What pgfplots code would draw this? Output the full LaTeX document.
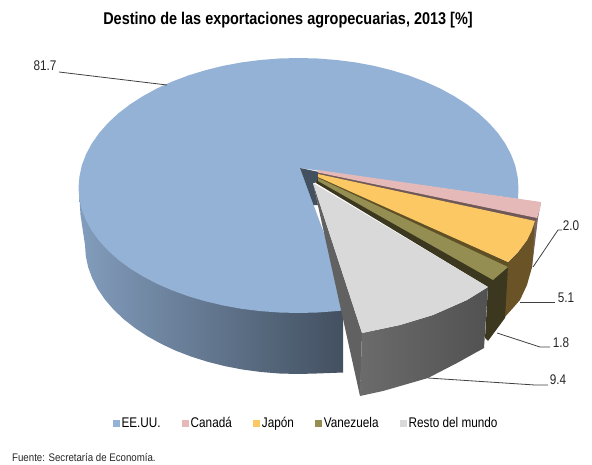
\documentclass[border=0pt]{standalone}
\usepackage{fontspec}
\setmainfont{Liberation Sans}
\usepackage{graphicx}
\usepackage{pgfplots}
\pgfplotsset{compat=1.18}
\definecolor{cB}{HTML}{94B2D6}
\definecolor{cP}{HTML}{E5B9B8}
\definecolor{cY}{HTML}{FCC864}
\definecolor{cO}{HTML}{958E52}
\definecolor{cG}{HTML}{D9D9D9}
\definecolor{cYs}{HTML}{6A5427}
\definecolor{cYe}{HTML}{605026}
\definecolor{cOs}{HTML}{3C3820}
\newcommand\T[3]{\scalebox{#2}[1]{\fontsize{#1bp}{#1bp}\selectfont #3}}
\pgfplotsset{
  sl/.style={forget plot,draw=none,fill=#1},
  ld/.style={forget plot,draw=black!75,line width=0.8bp},
}
\tikzset{lab/.style={inner sep=0pt,text=black!85}}
\begin{document}
\begin{tikzpicture}
\begin{axis}[
  scale only axis,width=592bp,height=465bp,
  xmin=0,xmax=592,ymin=0,ymax=465,y dir=reverse,
  hide axis,clip=false,
  legend columns=5,
  legend style={draw=none,fill=none,at={(axis cs:306,423.5)},anchor=center,inner sep=0pt,
    /tikz/every even column/.append style={column sep=19bp}},
  legend cell align=left,
  legend image code/.code={\path[#1,draw=none] (0bp,-3.5bp) rectangle (7bp,3.5bp);},
]
\path (axis cs:0,0) rectangle (axis cs:592,465);
% blue side
\addplot[forget plot,draw=none,left color=cB!88!black,right color=cB!45!black] coordinates {
(79,190)(80.5,215)(85,245)(85.8,256.2)(88.2,267.4)(92.3,278.4)(97.8,289.1)(105,299.6)(113.5,309.5)(123.5,319)(134.8,327.9)(147.4,336.2)(161.1,343.8)(175.8,350.7)(191.5,356.7)(208,361.9)(225.2,366.2)(242.9,369.6)(261,372)(279.4,373.5)(298,374)(316.6,373.5)(343,372.5)(343,300)(200,250)};
% blue top
\addplot[sl=cB] coordinates {
(518,199)(518.5,188)(517.6,176.7)(515.2,165.4)(511,154.3)(505.2,143.5)(497.9,133)(489,123)(478.7,113.4)(467,104.4)(454.1,96.1)(440,88.4)(424.7,81.5)(408.5,75.4)(391.5,70.2)(373.7,65.8)(355.5,62.4)(336.7,60)(317.7,58.5)(298.5,58)(279.3,58.5)(260.3,60)(241.5,62.4)(223.3,65.8)(205.5,70.2)(188.5,75.4)(172.3,81.5)(157,88.4)(143,96.1)(130,104.4)(118.3,113.4)(108,123)(99.2,133)(91.8,143.5)(86,154.3)(81.8,165.4)(79.4,176.7)(78.5,188)(79.4,198.9)(81.8,209.7)(86,220.4)(91.8,230.8)(99.2,240.9)(108,250.5)(118.3,259.8)(130,268.4)(143,276.4)(157,283.8)(172.3,290.4)(188.5,296.3)(205.5,301.3)(223.3,305.5)(241.5,308.8)(260.3,311.1)(279.3,312.5)(298.5,313)(317.7,312.5)(336.7,311.1)(343.1,310.4)(352,309.5)(300,168)};
% blue inner wall
\addplot[sl=cB!45!black] coordinates {(300,168)(319,172)(319,182)(313,183)(318,205)(313.5,205)};
% pink
\addplot[sl=cP!55!black] coordinates {(541,202)(538,218)(532,267)(530,273)(535,220)};
\addplot[sl=cP!48!black] coordinates {(318,171)(537,216)(535,222)(318,176)};
\addplot[sl=cP] coordinates {(318,170)(541,202)(540,209)(537,218)(318,172.5)};
% yellow
\addplot[sl=cYs] coordinates {(535,220)(527,240)(518,252)(508,262)(504,318)(513,308)(520,300)(527,285)(532,267)(533,255)};
\addplot[sl=cYe] coordinates {(318,175)(508,262)(508,268)(318,179)};
\addplot[sl=cY] coordinates {(318,174)(535,221)(531.5,231)(527,240)(518,252)(508,262)(318,177)};
% olive
\addplot[sl=cOs] coordinates {(318,178)(493,279)(508,267)(505,318)(488,341)(485,338)(488,287)(316,183)};
\addplot[sl=cO] coordinates {(318,178)(508,267)(493,280)(318,181)};
% grey
\addplot[sl=black!62] coordinates {(313,183)(362,333)(360,396)};
\addplot[forget plot,draw=none,left color=black!58,right color=black!68] coordinates {(362,333)(400,325)(433,315)(467,300)(488,287)(484,348)(457,363)(428,378)(383,391)(360,396)};
\addplot[sl=cG] coordinates {(313,183)(488,287)(467,300)(433,315)(400,325)(362,333)};
% leaders
\addplot[ld] coordinates {(59,72)(167,85)};
\addplot[ld] coordinates {(533,267)(558,230)(562,230)};
\addplot[ld] coordinates {(520,302)(555,302)};
\addplot[ld] coordinates {(497,333)(540,347)(550,347)};
\addplot[ld] coordinates {(428,378)(535,385)(548,385)};
% legend
\addlegendimage{fill=cB}\addlegendentry{\T{14}{0.84}{EE.UU.}}
\addlegendimage{fill=cP}\addlegendentry{\T{14}{0.84}{Canadá}}
\addlegendimage{fill=cY}\addlegendentry{\T{14}{0.84}{Japón}}
\addlegendimage{fill=cO}\addlegendentry{\T{14}{0.84}{Vanezuela}}
\addlegendimage{fill=cG}\addlegendentry{\T{14}{0.84}{Resto del mundo}}
% text
\node[lab,text=black] at (axis cs:288,20) {\T{17}{0.85}{\bfseries Destino de las exportaciones agropecuarias, 2013 [\%]}};
\node[lab] at (axis cs:45,66) {\T{14}{0.84}{81.7}};
\node[lab] at (axis cs:571,226) {\T{14}{0.84}{2.0}};
\node[lab] at (axis cs:566,298) {\T{14}{0.84}{5.1}};
\node[lab] at (axis cs:561,343) {\T{14}{0.84}{1.8}};
\node[lab] at (axis cs:558,380) {\T{14}{0.84}{9.4}};
\node[lab,anchor=west] at (axis cs:12,457) {\T{11}{0.88}{Fuente: Secretaría de Economía.}};
\end{axis}
\end{tikzpicture}
\end{document}
